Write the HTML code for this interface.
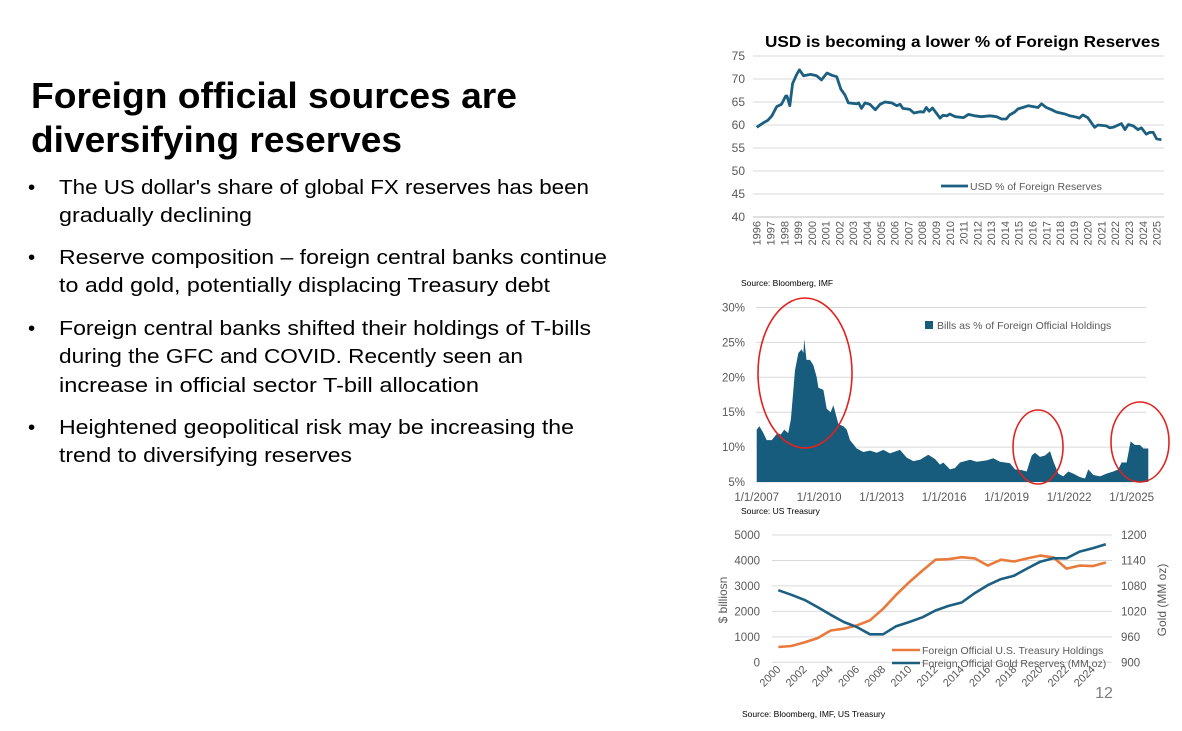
<!DOCTYPE html>
<html><head><meta charset="utf-8"><style>
html,body{margin:0;padding:0;background:#fff;}
body{width:1182px;height:731px;overflow:hidden;position:relative;font-family:"Liberation Sans",sans-serif;}
svg{position:absolute;left:0;top:0;}
</style></head><body>
<svg id="page" width="1182" height="731" viewBox="0 0 1182 731">
  <g font-family="Liberation Sans, sans-serif" fill="#000">
    <text font-weight="bold" font-size="36">
      <tspan x="31" y="108" textLength="486" lengthAdjust="spacingAndGlyphs">Foreign official sources are</tspan>
      <tspan x="31" y="152" textLength="371" lengthAdjust="spacingAndGlyphs">diversifying reserves</tspan>
    </text>
    <g font-size="20.5">
      <text x="28" y="194">•</text>
      <text x="28" y="264">•</text>
      <text x="28" y="335">•</text>
      <text x="28" y="434">•</text>
      <text><tspan x="59" y="194" textLength="530" lengthAdjust="spacingAndGlyphs">The US dollar's share of global FX reserves has been</tspan><tspan x="59" y="222" textLength="193" lengthAdjust="spacingAndGlyphs">gradually declining</tspan></text>
      <text><tspan x="59" y="264" textLength="548" lengthAdjust="spacingAndGlyphs">Reserve composition – foreign central banks continue</tspan><tspan x="59" y="292" textLength="491" lengthAdjust="spacingAndGlyphs">to add gold, potentially displacing Treasury debt</tspan></text>
      <text><tspan x="59" y="335" textLength="532" lengthAdjust="spacingAndGlyphs">Foreign central banks shifted their holdings of T-bills</tspan><tspan x="59" y="363" textLength="464" lengthAdjust="spacingAndGlyphs">during the GFC and COVID.  Recently seen an</tspan><tspan x="59" y="392" textLength="420" lengthAdjust="spacingAndGlyphs">increase in official sector T-bill allocation</tspan></text>
      <text><tspan x="59" y="434" textLength="515" lengthAdjust="spacingAndGlyphs">Heightened geopolitical risk may be increasing the</tspan><tspan x="59" y="462" textLength="293" lengthAdjust="spacingAndGlyphs">trend to diversifying reserves</tspan></text>
    </g>
  </g>
  <g id="c1"></g>
  <g id="c2"></g>
  <g id="c3"></g>
  <text x="1104" y="698" font-size="16" fill="#7f7f7f" text-anchor="middle">12</text>
</svg>
<script>
// ---- Chart 1 data ----
const usdYears = [1996,1996.5,1996.8,1997.1,1997.45,1997.8,1998.1,1998.2,1998.4,1998.6,1998.9,1999.1,1999.4,1999.9,2000.35,2000.7,2001.1,2001.45,2001.8,2002.1,2002.4,2002.65,2003.25,2003.4,2003.6,2003.85,2004.2,2004.6,2004.95,2005.3,2005.8,2006.15,2006.4,2006.6,2007.1,2007.4,2007.85,2008.1,2008.3,2008.5,2008.75,2009.3,2009.5,2009.8,2010,2010.4,2011,2011.35,2011.8,2012.3,2012.9,2013.4,2013.75,2014.1,2014.35,2014.7,2014.95,2015.3,2015.7,2016.4,2016.65,2017,2017.4,2017.75,2018.35,2018.7,2019.05,2019.4,2019.65,2020,2020.5,2020.75,2021.35,2021.6,2021.85,2022.45,2022.7,2022.95,2023.3,2023.65,2023.9,2024.25,2024.5,2024.75,2025,2025.35];
const usdValues = [59.5,60.5,61,62,64,64.5,66.3,66.3,64.2,69,71,72,70.7,71,70.7,69.8,71.3,70.8,70.5,67.8,66.5,64.8,64.6,64.8,63.6,64.8,64.5,63.3,64.5,65,64.8,64.2,64.5,63.6,63.4,62.6,62.9,62.8,63.8,63,63.7,61.5,62.1,62,62.4,61.8,61.6,62.3,62,61.8,62,61.8,61.3,61.3,62.2,62.8,63.5,63.8,64.2,63.8,64.6,63.8,63.3,62.8,62.4,62,61.8,61.5,62.2,61.6,59.5,60,59.8,59.4,59.5,60.3,59,60.1,59.8,59,59.4,58,58.4,58.4,57,56.8];
const usdTicks = [40,45,50,55,60,65,70,75];
const usdYearLabels = [1996,1997,1998,1999,2000,2001,2002,2003,2004,2005,2006,2007,2008,2009,2010,2011,2012,2013,2014,2015,2016,2017,2018,2019,2020,2021,2022,2023,2024,2025];
// ---- Chart 2 data ----
const billYears = [2007,2007.13,2007.32,2007.48,2007.72,2008,2008.16,2008.32,2008.51,2008.64,2008.84,2009,2009.16,2009.24,2009.28,2009.39,2009.56,2009.72,2009.88,2009.96,2010.2,2010.36,2010.55,2010.68,2010.92,2011.16,2011.32,2011.48,2011.8,2012.12,2012.44,2012.76,2013.08,2013.4,2013.88,2014.2,2014.52,2014.84,2015.24,2015.56,2015.8,2015.96,2016.28,2016.52,2016.76,2017.24,2017.56,2018.04,2018.36,2018.68,2019.16,2019.4,2019.72,2019.96,2020.2,2020.36,2020.6,2020.84,2021.08,2021.24,2021.48,2021.72,2021.96,2022.2,2022.52,2022.76,2022.92,2023.16,2023.48,2023.8,2024.12,2024.36,2024.52,2024.76,2024.95,2025.16,2025.4,2025.56,2025.8];
const billValues = [12.5,13,12,11,11,12,11.8,12.5,12,14,21,23.5,24,23.5,25.5,22.5,22.5,21.7,20,18.5,18.2,15.5,15,16,13.3,13,12.5,11,9.8,9.3,9.5,9.2,9.6,9.1,9.6,8.5,8,8.2,8.9,8.3,7.5,7.8,6.8,7,7.8,8.2,7.9,8.1,8.4,7.9,7.7,6.8,6.7,6.5,8.8,9.2,8.6,8.8,9.4,8,6.2,5.8,6.5,6.2,5.7,5.5,6.8,6,5.8,6.2,6.5,6.8,7.8,7.8,10.8,10.3,10.3,9.8,9.8];
const billTicks = [5,10,15,20,25,30];
const billDateLabels = ["1/1/2007","1/1/2010","1/1/2013","1/1/2016","1/1/2019","1/1/2022","1/1/2025"];
const billDateYears = [2007,2010,2013,2016,2019,2022,2025];
// ---- Chart 3 data ----
const c3Years = [2000,2001,2002,2003,2004,2005,2006,2007,2008,2009,2010,2011,2012,2013,2014,2015,2016,2017,2018,2019,2020,2021,2022,2023,2024,2025];
const treasuryValues = [600,640,780,950,1250,1320,1450,1650,2100,2650,3150,3600,4030,4050,4130,4080,3800,4030,3960,4080,4190,4120,3680,3800,3780,3920];
const goldValues = [1070,1059,1047,1030,1012,995,983,966,966,985,995,1006,1022,1033,1041,1063,1082,1096,1104,1121,1137,1145,1145,1161,1169,1178];
const leftTicks = [0,1000,2000,3000,4000,5000];
const rightTicks = [900,960,1020,1080,1140,1200];
const c3YearLabels = [2000,2002,2004,2006,2008,2010,2012,2014,2016,2018,2020,2022,2024];

const NS = "http://www.w3.org/2000/svg";
function mk(parent, tag, attrs, text){
  const e = document.createElementNS(NS, tag);
  for (const k in attrs) e.setAttribute(k, attrs[k]);
  if (text !== undefined) e.textContent = text;
  parent.appendChild(e);
  return e;
}
const GRID="#d9d9d9", TXT="#595959", BLUE="#1c5f80", FILL="#175b7d", ORANGE="#e97a3b";

// ===== Chart 1 =====
(function(){
  const g = document.getElementById('c1');
  const x = yr => 756.7 + (yr - 1996) * 13.79;
  const y = v => 56 + (75 - v) * 4.6;
  let t = mk(g,'text',{x:765,y:47,'font-size':16,'font-weight':'bold',fill:'#000',textLength:395,lengthAdjust:'spacingAndGlyphs'},'USD is becoming a lower % of Foreign Reserves');
   
  usdTicks.forEach(v=>{
    const l = mk(g,'line',{x1:753,x2:1164,y1:y(v),y2:y(v),stroke: v===40?'#bfbfbf':GRID,'stroke-width':1});
     
    const tx = mk(g,'text',{x:745,y:y(v)+4,'font-size':12,'text-anchor':'end',fill:TXT},String(v));
     
  });
  usdYearLabels.forEach(yr=>{
    const tx = mk(g,'text',{x:0,y:0,'font-size':11,'text-anchor':'end',fill:TXT,transform:`translate(${x(yr)+4},${221}) rotate(-90)`},String(yr));
     
  });
  const d = usdYears.map((yr,i)=>(i?'L':'M')+x(yr).toFixed(1)+','+y(usdValues[i]).toFixed(1)).join(' ');
  const p = mk(g,'path',{d:d,fill:'none',stroke:BLUE,'stroke-width':2.8,'stroke-linejoin':'round'});
   
  const ll = mk(g,'line',{x1:941,x2:968,y1:186,y2:186,stroke:BLUE,'stroke-width':2.8});
   
  const lt = mk(g,'text',{x:970,y:190,'font-size':10.5,fill:TXT},'USD % of Foreign Reserves');
   
  const s = mk(g,'text',{x:741,y:286,'font-size':8.5,fill:'#000'},'Source: Bloomberg, IMF');
   
})();

// ===== Chart 2 =====
(function(){
  const g = document.getElementById('c2');
  const x = yr => 756.7 + (yr - 2007) * 20.83;
  const y = v => 482 + (5 - v) * 6.98;
  billTicks.forEach(v=>{
    const l = mk(g,'line',{x1:756,x2:1146,y1:y(v),y2:y(v),stroke:GRID,'stroke-width':1});
     
    const tx = mk(g,'text',{x:745,y:y(v)+4,'font-size':11.5,'text-anchor':'end',fill:TXT},v+'%');
     
  });
  billDateYears.forEach((yr,i)=>{
    const tx = mk(g,'text',{x:x(yr),y:501,'font-size':11.5,'text-anchor':'middle',fill:TXT},billDateLabels[i]);
     
  });
  let d = 'M'+x(billYears[0]).toFixed(1)+','+y(5);
  billYears.forEach((yr,i)=>{ d += ' L'+x(yr).toFixed(1)+','+y(billValues[i]).toFixed(1); });
  d += ' L'+x(billYears[billYears.length-1]).toFixed(1)+','+y(5)+' Z';
  const a = mk(g,'path',{d:d,fill:FILL});
   
  const sq = mk(g,'rect',{x:925,y:321,width:8,height:8,fill:FILL});
   
  const lt = mk(g,'text',{x:937,y:329,'font-size':10.5,fill:TXT},'Bills as % of Foreign Official Holdings');
   
  [[805,373,47,75,'gfc-highlight-circle'],[1038,447,25,37,'covid-highlight-circle'],[1140,442,29,40,'recent-highlight-circle']].forEach(c=>{
    const e = mk(g,'ellipse',{cx:c[0],cy:c[1],rx:c[2],ry:c[3],fill:'none',stroke:'#e0231f','stroke-width':1.6});
     
  });
  const s = mk(g,'text',{x:741,y:514,'font-size':8.5,fill:'#000'},'Source: US Treasury');
   
})();

// ===== Chart 3 =====
(function(){
  const g = document.getElementById('c3');
  const x = yr => 778.3 + (yr - 2000) * 13.1;
  const yl = v => 662.3 - v * 0.02546;
  const yr_ = v => 662.3 - (v - 900) * 0.4243;
  leftTicks.forEach((v,i)=>{
    const l = mk(g,'line',{x1:772,x2:1112,y1:yl(v),y2:yl(v),stroke:GRID,'stroke-width':1});
     
    const tx = mk(g,'text',{x:760,y:yl(v)+4,'font-size':11.5,'text-anchor':'end',fill:TXT},String(v));
     
  });
  rightTicks.forEach(v=>{
    const tx = mk(g,'text',{x:1121,y:yr_(v)+4,'font-size':11.5,fill:TXT},String(v));
     
  });
  c3YearLabels.forEach(yr=>{
    const tx = mk(g,'text',{x:0,y:0,'font-size':11,'text-anchor':'end',fill:TXT,transform:`translate(${x(yr)+3},${670}) rotate(-45)`},String(yr));
     
  });
  const ya = mk(g,'text',{x:0,y:0,'font-size':12,'text-anchor':'middle',fill:TXT,transform:'translate(727,600) rotate(-90)'},'$ billiosn');
   
  const yb = mk(g,'text',{x:0,y:0,'font-size':12,'text-anchor':'middle',fill:TXT,transform:'translate(1166,600) rotate(-90)'},'Gold (MM oz)');
   
  const d1 = c3Years.map((yr,i)=>(i?'L':'M')+x(yr).toFixed(1)+','+yl(treasuryValues[i]).toFixed(1)).join(' ');
  const p1 = mk(g,'path',{d:d1,fill:'none',stroke:ORANGE,'stroke-width':2.6,'stroke-linejoin':'round'});
   
  const d2 = c3Years.map((yr,i)=>(i?'L':'M')+x(yr).toFixed(1)+','+yr_(goldValues[i]).toFixed(1)).join(' ');
  const p2 = mk(g,'path',{d:d2,fill:'none',stroke:BLUE,'stroke-width':2.6,'stroke-linejoin':'round'});
   
  const l1 = mk(g,'line',{x1:892,x2:920,y1:650,y2:650,stroke:ORANGE,'stroke-width':2.6});
   
  const t1 = mk(g,'text',{x:922,y:654,'font-size':10.5,fill:TXT},'Foreign Official U.S. Treasury Holdings');
   
  const l2 = mk(g,'line',{x1:892,x2:920,y1:663,y2:663,stroke:BLUE,'stroke-width':2.6});
   
  const t2 = mk(g,'text',{x:922,y:667,'font-size':10.5,fill:TXT},'Foreign Official Gold Reserves (MM oz)');
   
  const s = mk(g,'text',{x:742,y:717,'font-size':8.5,fill:'#000'},'Source: Bloomberg, IMF, US Treasury');
   
})();
</script>
</body></html>
